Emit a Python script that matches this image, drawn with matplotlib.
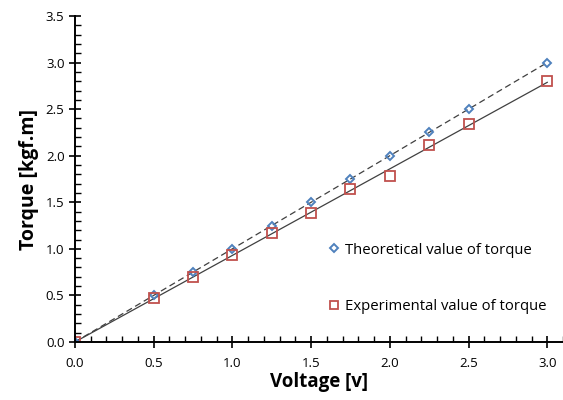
import numpy as np
import matplotlib
matplotlib.use("Agg")
import matplotlib.pyplot as plt
from matplotlib.ticker import MultipleLocator, FormatStrFormatter

plt.rcParams['font.family'] = ['Open Sans', 'DejaVu Sans']

# data
voltage = [0.0, 0.5, 0.75, 1.0, 1.25, 1.5, 1.75, 2.0, 2.25, 2.5, 3.0]
theoretical = [0.0, 0.5, 0.75, 1.0, 1.25, 1.5, 1.75, 2.0, 2.25, 2.5, 3.0]
experimental = [0.0, 0.47, 0.70, 0.93, 1.17, 1.39, 1.64, 1.78, 2.11, 2.34, 2.80]

x = np.array(voltage)

fig = plt.figure(figsize=(5.63, 4.0), dpi=100)
ax = fig.add_axes([0.133, 0.145, 0.867, 0.815])

# linear trendlines through the origin
def fit0(xs, ys):
    ys = np.array(ys)
    return np.sum(xs * ys) / np.sum(xs * xs)

xl = np.array([0.0, 3.0])
ax.plot(xl, fit0(x, theoretical) * xl, color='#404040', lw=0.9, ls=(0, (5, 3)))
ax.plot(xl, fit0(x, experimental) * xl, color='#404040', lw=0.9)

ax.plot(x, theoretical, ls='none', marker='D', ms=4.5, mfc='none', mec='#4F81BD',
        mew=1.4, label='Theoretical value of torque')
ax.plot(x, experimental, ls='none', marker='s', ms=7.5, mfc='none', mec='#C0504D',
        mew=1.3, label='Experimental value of torque')

ax.set_xlim(0, 3.1)
ax.set_ylim(0, 3.5)
ax.xaxis.set_major_locator(MultipleLocator(0.5))
ax.xaxis.set_minor_locator(MultipleLocator(0.1))
ax.yaxis.set_major_locator(MultipleLocator(0.5))
ax.yaxis.set_minor_locator(MultipleLocator(0.1))
ax.xaxis.set_major_formatter(FormatStrFormatter('%.1f'))
ax.yaxis.set_major_formatter(FormatStrFormatter('%.1f'))

for s in ['top', 'right']:
    ax.spines[s].set_visible(False)
for s in ['left', 'bottom']:
    ax.spines[s].set_linewidth(1.4)
    ax.spines[s].set_color('black')

ax.tick_params(which='major', direction='inout', length=9, width=1.2, labelsize=9.5, pad=3)
ax.tick_params(which='minor', direction='in', length=4, width=1.0)
ax.tick_params(axis='x', which='major', pad=6)

ax.set_xlabel('Voltage [v]', fontsize=13.5, fontweight='bold', labelpad=2)
ax.set_ylabel('Torque [kgf.m]', fontsize=14, fontweight='bold', labelpad=5)

ax.legend(loc='center left', bbox_to_anchor=(0.492, 0.195), frameon=False, fontsize=10.7,
          handlelength=0.8, handletextpad=0.3, labelspacing=2.8, markerscale=0.8,
          borderpad=0.4)

fig.savefig('out.png', dpi=100)
